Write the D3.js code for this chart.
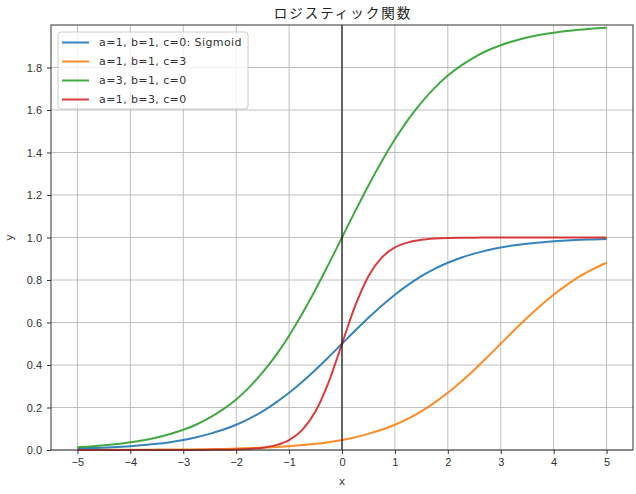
<!DOCTYPE html>
<html lang="ja">
<head>
<meta charset="UTF-8">
<title>ロジスティック関数</title>
<script src="https://d3js.org/d3.v7.min.js"></script>
<style>
  body { margin: 0; background: #fff; }
  svg { display: block; font-family: "DejaVu Sans", "Noto Sans CJK JP", sans-serif; }
</style>
</head>
<body>
<div id="chart"></div>
<script>
  const xValues = [-5, -4.75, -4.5, -4.25, -4, -3.75, -3.5, -3.25, -3, -2.75, -2.5, -2.25, -2, -1.75, -1.5, -1.25, -1, -0.75, -0.5, -0.25,
    0, 0.25, 0.5, 0.75, 1, 1.25, 1.5, 1.75, 2, 2.25, 2.5, 2.75, 3, 3.25, 3.5, 3.75, 4, 4.25, 4.5, 4.75, 5];

  const sigmoidY = [0.007, 0.009, 0.011, 0.014, 0.018, 0.023, 0.029, 0.037, 0.047, 0.060, 0.076, 0.095, 0.119, 0.148, 0.182, 0.223, 0.269, 0.321, 0.378, 0.438,
    0.500, 0.562, 0.622, 0.679, 0.731, 0.777, 0.818, 0.852, 0.881, 0.905, 0.924, 0.940, 0.953, 0.963, 0.971, 0.977, 0.982, 0.986, 0.989, 0.991, 0.993];

  const shiftY = [0.000, 0.000, 0.001, 0.001, 0.001, 0.001, 0.002, 0.002, 0.002, 0.003, 0.004, 0.005, 0.007, 0.009, 0.011, 0.014, 0.018, 0.023, 0.029, 0.037,
    0.047, 0.060, 0.076, 0.095, 0.119, 0.148, 0.182, 0.223, 0.269, 0.321, 0.378, 0.438, 0.500, 0.562, 0.622, 0.679, 0.731, 0.777, 0.818, 0.852, 0.881];

  const scaledY = [0.013, 0.017, 0.022, 0.028, 0.036, 0.046, 0.059, 0.075, 0.095, 0.120, 0.152, 0.191, 0.238, 0.296, 0.365, 0.445, 0.538, 0.642, 0.755, 0.876,
    1.000, 1.124, 1.245, 1.358, 1.462, 1.555, 1.635, 1.704, 1.762, 1.809, 1.848, 1.880, 1.905, 1.925, 1.941, 1.954, 1.964, 1.972, 1.978, 1.983, 1.987];

  const steepY = [0.000, 0.000, 0.000, 0.000, 0.000, 0.000, 0.000, 0.000, 0.000, 0.000, 0.001, 0.001, 0.002, 0.005, 0.011, 0.023, 0.047, 0.095, 0.182, 0.321,
    0.500, 0.679, 0.818, 0.905, 0.953, 0.977, 0.989, 0.995, 0.998, 0.999, 0.999, 1.000, 1.000, 1.000, 1.000, 1.000, 1.000, 1.000, 1.000, 1.000, 1.000];

  const seriesLabels = ["a=1, b=1, c=0: Sigmoid", "a=1, b=1, c=3", "a=3, b=1, c=0", "a=1, b=3, c=0"];
  const seriesColors = ["#1f77b4", "#ff7f0e", "#2ca02c", "#d62728"];
  const xTicks = [-5, -4, -3, -2, -1, 0, 1, 2, 3, 4, 5];
  const yTicks = [0, 0.2, 0.4, 0.6, 0.8, 1.0, 1.2, 1.4, 1.6, 1.8];

  const width = 636, height = 494;
  const margin = { top: 25, right: 3, bottom: 44, left: 51 };

  const svg = d3.select("#chart").append("svg").attr("width", width).attr("height", height);

  const x = d3.scaleLinear().domain([-5.5, 5.5]).range([margin.left, width - margin.right]);
  const y = d3.scaleLinear().domain([0, 2.0]).range([height - margin.bottom, margin.top]);

  // grid
  svg.append("g").selectAll("line").data(xTicks).join("line")
    .attr("x1", d => x(d)).attr("x2", d => x(d))
    .attr("y1", y.range()[0]).attr("y2", y.range()[1])
    .attr("stroke", "#b0b0b0").attr("stroke-width", 0.8);
  svg.append("g").selectAll("line").data(yTicks).join("line")
    .attr("x1", x.range()[0]).attr("x2", x.range()[1])
    .attr("y1", d => y(d)).attr("y2", d => y(d))
    .attr("stroke", "#b0b0b0").attr("stroke-width", 0.8);

  // curves
  const series = [sigmoidY, shiftY, scaledY, steepY];
  const line = d3.line().x((d, i) => x(xValues[i])).y(d => y(d)).curve(d3.curveMonotoneX);
  svg.append("g").selectAll("path").data(series).join("path")
    .attr("d", d => line(d))
    .attr("fill", "none")
    .attr("stroke", (d, i) => seriesColors[i])
    .attr("stroke-opacity", 0.9)
    .attr("stroke-width", 2);

  // vertical line at x=0
  svg.append("line")
    .attr("x1", x(0)).attr("x2", x(0))
    .attr("y1", y.range()[0]).attr("y2", y.range()[1])
    .attr("stroke", "#000").attr("stroke-width", 1.1);

  // axes
  const xAxis = svg.append("g")
    .attr("transform", `translate(0,${height - margin.bottom})`)
    .call(d3.axisBottom(x).tickValues(xTicks).tickSize(4).tickPadding(4).tickFormat(d => d < 0 ? "\u2212" + Math.abs(d) : d));
  const yAxis = svg.append("g")
    .attr("transform", `translate(${margin.left},0)`)
    .call(d3.axisLeft(y).tickValues(yTicks).tickSize(4).tickPadding(5).tickFormat(d3.format(".1f")));
  [xAxis, yAxis].forEach(g => {
    g.select(".domain").remove();
    g.selectAll("text").attr("font-size", 11).attr("fill", "#333");
    g.selectAll("line").attr("stroke", "#333");
  });

  // spines
  svg.append("rect")
    .attr("x", margin.left).attr("y", margin.top)
    .attr("width", width - margin.left - margin.right)
    .attr("height", height - margin.top - margin.bottom)
    .attr("fill", "none").attr("stroke", "#333").attr("stroke-width", 1);

  // labels
  svg.append("text").attr("x", x(0) + 1).attr("y", 18).attr("text-anchor", "middle")
    .attr("font-family", "Noto Sans CJK JP").attr("letter-spacing", 2)
    .attr("font-size", 13.5).attr("fill", "#222").text("ロジスティック関数");
  svg.append("text").attr("x", x(0)).attr("y", 485).attr("text-anchor", "middle")
    .attr("font-size", 11).attr("fill", "#444").text("x");
  svg.append("text").attr("transform", `translate(13,${y(1)}) rotate(-90)`).attr("text-anchor", "middle")
    .attr("font-size", 11).attr("fill", "#444").text("y");

  // legend
  const legend = svg.append("g").attr("transform", "translate(58,32)");
  legend.append("rect").attr("width", 190).attr("height", 77).attr("rx", 3)
    .attr("fill", "#fff").attr("fill-opacity", 0.8).attr("stroke", "#ccc");
  const items = legend.selectAll("g").data(seriesLabels).join("g")
    .attr("transform", (d, i) => `translate(0,${10.5 + i * 19})`);
  items.append("line").attr("x1", 4).attr("x2", 31)
    .attr("stroke", (d, i) => seriesColors[i]).attr("stroke-opacity", 0.9).attr("stroke-width", 2);
  items.append("text").attr("x", 41).attr("dy", "0.35em").attr("letter-spacing", 0.4)
    .attr("font-size", 11).attr("fill", "#333").text(d => d);
</script>
</body>
</html>
